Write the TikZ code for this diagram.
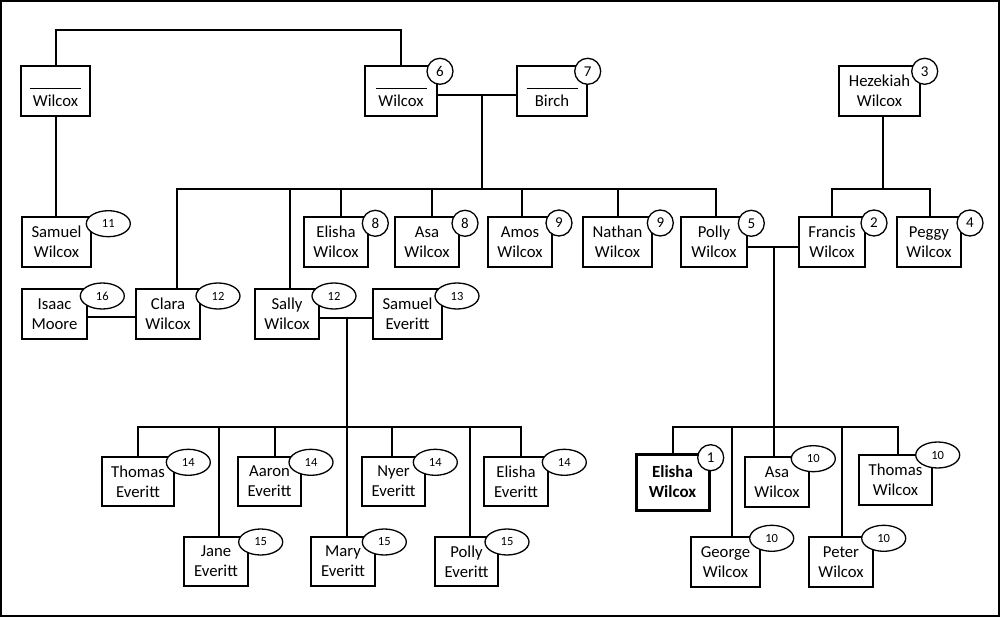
\documentclass[tikz,border=0pt]{standalone}
\usepackage{fontspec}
\setmainfont{Carlito}
\usetikzlibrary{shapes.geometric}
\begin{document}
\begin{tikzpicture}[x=1pt,y=-1pt,
  pbox/.style={draw, line width=1.3pt, rectangle, inner sep=0pt, align=center,
    font=\fontsize{16.7}{20}\selectfont, minimum height=50pt},
  conn/.style={line width=2pt, line cap=rect},
  num/.style={draw, circle, fill=white, line width=1.3pt, minimum size=26pt,
    inner sep=0pt, font=\fontsize{15}{15}\selectfont},
  enum/.style={draw, ellipse, fill=white, line width=1.3pt, minimum width=44pt,
    minimum height=26pt, inner sep=0pt, font=\fontsize{12.5}{12.5}\selectfont}]
\useasboundingbox (0,0) rectangle (1000,617);
\draw[line width=2pt] (1,1) rectangle (999,616);

% generation 1
\node[pbox, minimum width=69pt] (wl) at (55.5,91) {\rule{0pt}{14pt}\rule{51pt}{1pt}\\[-2pt]Wilcox};
\node[pbox, minimum width=72pt] (w6) at (401,91) {\rule{0pt}{14pt}\rule{51pt}{1pt}\\[-2pt]Wilcox};
\node[pbox, minimum width=70pt] (birch) at (552,91) {\rule{0pt}{14pt}\rule{51pt}{1pt}\\[-2pt]Birch};
\node[pbox, minimum width=81pt] (hez) at (879.5,91) {Hezekiah\\Wilcox};

% generation 2
\node[pbox, minimum width=69pt] (samW) at (56.5,242) {Samuel\\Wilcox};
\node[pbox, minimum width=64pt] (elishaW) at (336,242) {Elisha\\Wilcox};
\node[pbox, minimum width=64pt] (asaW) at (427,242) {Asa\\Wilcox};
\node[pbox, minimum width=64pt] (amos) at (520,242) {Amos\\Wilcox};
\node[pbox, minimum width=69pt] (nathan) at (617.5,242) {Nathan\\Wilcox};
\node[pbox, minimum width=66pt] (polly) at (714,242) {Polly\\Wilcox};
\node[pbox, minimum width=66pt] (francis) at (832,242) {Francis\\Wilcox};
\node[pbox, minimum width=64pt] (peggy) at (929,242) {Peggy\\Wilcox};

\node[pbox, minimum width=65pt] (isaac) at (54.5,314) {Isaac\\Moore};
\node[pbox, minimum width=64pt] (clara) at (168,314) {Clara\\Wilcox};
\node[pbox, minimum width=64pt] (sally) at (287,314) {Sally\\Wilcox};
\node[pbox, minimum width=69pt] (samE) at (407.5,314) {Samuel\\Everitt};

% Everitt children
\node[pbox, minimum width=72pt, minimum height=49pt] (thomasE) at (138,481.5) {Thomas\\Everitt};
\node[pbox, minimum width=63pt, minimum height=49pt] (aaron) at (269.5,481.5) {Aaron\\Everitt};
\node[pbox, minimum width=63pt, minimum height=49pt] (nyer) at (393.5,481.5) {Nyer\\Everitt};
\node[pbox, minimum width=64pt, minimum height=49pt] (elishaE) at (516,481.5) {Elisha\\Everitt};
\node[pbox, minimum width=64pt, minimum height=49pt] (jane) at (216,561.5) {Jane\\Everitt};
\node[pbox, minimum width=64pt, minimum height=49pt] (mary) at (343,561.5) {Mary\\Everitt};
\node[pbox, minimum width=63pt, minimum height=49pt] (pollyE) at (466.5,561.5) {Polly\\Everitt};

% Wilcox children
\node[pbox, line width=3pt, minimum width=73pt, minimum height=56pt, font=\fontsize{17}{20}\selectfont\bfseries] (eW) at (672.5,482) {Elisha\\Wilcox};
\node[pbox, minimum width=64pt] (asa10) at (777,482) {Asa\\Wilcox};
\node[pbox, minimum width=73pt] (thomasW) at (895.5,480) {Thomas\\Wilcox};
\node[pbox, minimum width=69pt] (george) at (725.5,562) {George\\Wilcox};
\node[pbox, minimum width=64pt] (peter) at (841,562) {Peter\\Wilcox};

% connectors: top
\coordinate (top) at (228,29.7);
\draw[conn] (wl.north) |- (top) -| (w6.north);
\draw[conn] (wl.south) -- (wl.south |- samW.north);
\draw[conn] ([yshift=-4pt]w6.east) -- ([yshift=-4pt]birch.west);
\coordinate (j1) at (481.7,95);
\coordinate (b1l) at (177,188.7);
\coordinate (b1r) at (716,188.7);
\draw[conn] (j1) -- (j1 |- b1l);
\draw[conn] (b1l) -- (b1r);
\draw[conn] (b1l) -- (b1l |- clara.north);
\draw[conn] (b1r) -- (b1r |- polly.north);
\draw[conn] ([xshift=3.3pt]sally.north) -- ([xshift=3.3pt]sally.north |- b1l);
\draw[conn] ([xshift=5pt]elishaW.north) -- ([xshift=5pt]elishaW.north |- b1l);
\draw[conn] ([xshift=5pt]asaW.north) -- ([xshift=5pt]asaW.north |- b1l);
\draw[conn] ([xshift=1.7pt]amos.north) -- ([xshift=1.7pt]amos.north |- b1l);
\draw[conn] (nathan.north) -- (nathan.north |- b1l);

% Hezekiah
\coordinate (b2l) at (832.3,188.7);
\coordinate (b2r) at (930,188.7);
\draw[conn] ([xshift=3.8pt]hez.south) -- ([xshift=3.8pt]hez.south |- b2l);
\draw[conn] (b2l) -- (b2r);
\draw[conn] (b2l) -- (b2l |- francis.north);
\draw[conn] (b2r) -- (b2r |- peggy.north);

% Polly + Francis
\draw[conn] ([yshift=-5pt]polly.east) -- ([yshift=-5pt]francis.west);
\coordinate (j2) at (774,247);
\coordinate (b3l) at (673.3,426.7);
\coordinate (b3r) at (897.7,426.7);
\draw[conn] (j2) -- (j2 |- asa10.north);
\draw[conn] (b3l) -- (b3r);
\draw[conn] (b3l) -- (b3l |- eW.north);
\draw[conn] (b3r) -- (b3r |- thomasW.north);
\draw[conn] ([xshift=6.2pt]george.north) -- ([xshift=6.2pt]george.north |- b3l);
\draw[conn] ([xshift=0.7pt]peter.north) -- ([xshift=0.7pt]peter.north |- b3l);

% Isaac + Clara
\draw[conn] ([yshift=-3pt]isaac.east) -- ([yshift=-3pt]clara.west);

% Sally + Samuel Everitt
\draw[conn] ([yshift=-4pt]sally.east) -- ([yshift=-4pt]samE.west);
\coordinate (j3) at (346.7,318.3);
\coordinate (b4l) at (137.7,427.3);
\coordinate (b4r) at (521,427.3);
\draw[conn] (j3) -- (j3 |- mary.north);
\draw[conn] (b4l) -- (b4r);
\draw[conn] (b4l) -- (b4l |- thomasE.north);
\draw[conn] (b4r) -- (b4r |- elishaE.north);
\draw[conn] ([xshift=3pt]jane.north) -- ([xshift=3pt]jane.north |- b4l);
\draw[conn] ([xshift=5.2pt]aaron.north) -- ([xshift=5.2pt]aaron.north |- b4l);
\draw[conn] ([xshift=-1.8pt]nyer.north) -- ([xshift=-1.8pt]nyer.north |- b4l);
\draw[conn] ([xshift=3.5pt]pollyE.north) -- ([xshift=3.5pt]pollyE.north |- b4l);

% number circles
\node[num] (n6) at (440,71.3) {6};
\node[num] (n7) at (587.7,71.3) {7};
\node[num] (n3) at (924.7,71.3) {3};
\node[num] (n8a) at (375.3,223.3) {8};
\node[num] (n8b) at (465,223.3) {8};
\node[num] (n9a) at (559,223) {9};
\node[num] (n9b) at (660.3,223) {9};
\node[num] (n5) at (751.3,223.3) {5};
\node[num] (n2) at (874,223) {2};
\node[num] (n4) at (970,223) {4};
\node[num] (n1) at (710.7,457.7) {1};

% number ellipses
\node[enum] (e11) at (108.3,223.7) {11};
\node[enum] (e16) at (102.3,296) {16};
\node[enum] (e12a) at (218,296) {12};
\node[enum] (e12b) at (334,296) {12};
\node[enum] (e13) at (457,296) {13};
\node[enum] (e14a) at (188.3,462.3) {14};
\node[enum] (e14b) at (311,462.3) {14};
\node[enum] (e14c) at (435.3,462.3) {14};
\node[enum] (e14d) at (564.3,462.3) {14};
\node[enum] (e15a) at (260.7,542) {15};
\node[enum] (e15b) at (384.3,542) {15};
\node[enum] (e15c) at (507,542) {15};
\node[enum] (e10a) at (813.3,458.7) {10};
\node[enum] (e10b) at (937.7,455) {10};
\node[enum] (e10c) at (771.7,538.3) {10};
\node[enum] (e10d) at (883.7,538.3) {10};
\end{tikzpicture}
\end{document}
